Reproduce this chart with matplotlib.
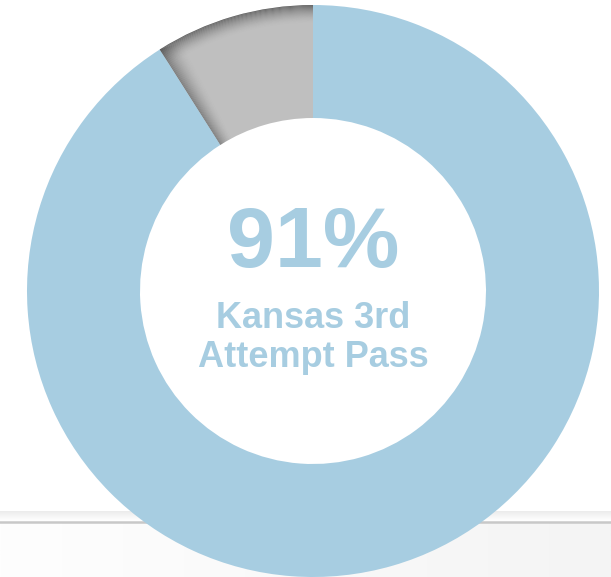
import numpy as np
import matplotlib.pyplot as plt
from matplotlib.colors import LinearSegmentedColormap
from matplotlib.patches import Wedge

# dados do gráfico
labels = ["Não passou", "Passou"]
values = [9, 91]
colors = ["#bfbfbf", "#a7cde1"]
pct_text = "91%"
sub_text = "Kansas 3rd\nAttempt Pass"

W, H = 611, 577
fig = plt.figure(figsize=(W / 100, H / 100), dpi=100)
ax = fig.add_axes([0, 0, 1, 1])

# fundo: linha cinza e faixa inferior levemente cinza
grad = np.linspace(0.0, 1.0, 256).reshape(1, -1)
bg_cmap = LinearSegmentedColormap.from_list("bg", ["#fefefe", "#f4f4f4"])
ax.imshow(grad, extent=[0, W, 0, 54], cmap=bg_cmap, aspect="auto", zorder=0)
shade = np.linspace(0.0, 1.0, 32).reshape(-1, 1)
sh_cmap = LinearSegmentedColormap.from_list("sh", ["#ececec", "#ffffff"])
ax.imshow(shade, extent=[0, W, 56, 66], cmap=sh_cmap, aspect="auto", zorder=0)
ax.axhline(577 - 522, color="#c8c8c8", lw=1.8, zorder=1)

cx, cy = 313, 286
R = 286
ring = 113

wedges, _ = ax.pie(values, colors=colors, startangle=90, counterclock=True,
                   center=(cx, cy), radius=R, frame=True,
                   wedgeprops=dict(width=ring, linewidth=0, zorder=2))
ax.set_xlim(0, W)
ax.set_ylim(0, H)
ax.axis("off")

# sombra no segmento cinza (borda externa e borda esquerda)
g = wedges[0]
t1, t2 = g.theta1, g.theta2
n = 18
for i in range(n):
    a = 0.72 * (1 - i / n) ** 1.8
    ax.add_patch(Wedge((cx, cy), R - i, t1, t2, width=1.0,
                       facecolor="#4a4a4a", alpha=a, lw=0, zorder=3))
dth = 0.25
for i in range(n):
    a = 0.55 * (1 - i / n) ** 1.8
    ax.add_patch(Wedge((cx, cy), R - i * 0.3, t2 - dth * (i + 1), t2 - dth * i,
                       width=ring - i * 0.3, facecolor="#4a4a4a", alpha=a, lw=0, zorder=3))

txt_color = "#a7cde1"
ax.text(cx, 577 - 245, pct_text, ha="center", va="center", fontsize=62,
        fontweight="bold", family="Liberation Sans", color=txt_color, zorder=4)
ax.text(cx, 577 - 338, sub_text, ha="center", va="center", fontsize=26,
        fontweight="bold", family="Liberation Sans", color=txt_color,
        linespacing=1.12, zorder=4)

fig.savefig("out.png", dpi=100)
